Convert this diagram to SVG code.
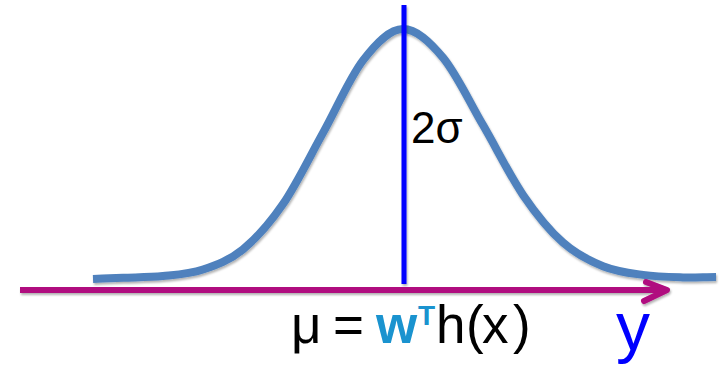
<svg xmlns="http://www.w3.org/2000/svg" width="722" height="369" viewBox="0 0 722 369">
<style>
.txt{font-family:"Liberation Sans","DejaVu Sans",sans-serif;fill:#000}
</style>
<defs>
<filter id="sh" filterUnits="userSpaceOnUse" x="0" y="0" width="722" height="369">
<feDropShadow dx="1" dy="2" stdDeviation="1.2" flood-color="#000" flood-opacity="0.3"/>
</filter>
</defs>
<rect width="722" height="369" fill="#fff"/>
<g id="curve">
<path filter="url(#sh)" fill="none" stroke="#4f81bd" stroke-width="8" d="M93,279 C103,278.6 111.33,278.18 123,277.7 C134.67,277.22 149.67,277.47 163,276.1 C176.33,274.73 189.67,273.97 203,269.5 C216.33,265.03 229.67,260.2 243,249.3 C256.33,238.4 269.67,223.5 283,204.1 C296.33,184.7 309.67,156.85 323,132.9 C336.33,108.95 349.67,77.72 363,60.4 C376.33,43.08 389.67,29 403,29 C416.33,29 429.67,41.58 443,57.6 C456.33,73.62 469.67,102.22 483,125.1 C496.33,147.98 509.67,175.32 523,194.9 C536.33,214.48 549.67,230.72 563,242.6 C576.33,254.48 589.67,260.82 603,266.2 C616.33,271.58 629.67,273.03 643,274.9 C656.33,276.77 670.83,277.05 683,277.4 C695.17,277.75 705,277 716,277"/>
</g>
<g id="connectors">
<line id="mean-line" x1="404" y1="5" x2="404" y2="284" stroke="#0000ff" stroke-width="5" filter="url(#sh)"/>
<g id="axis" filter="url(#sh)" stroke="#b0087f" stroke-width="6" fill="none" stroke-linecap="round" stroke-linejoin="round">
<line x1="20" y1="290" x2="666" y2="290" stroke-linecap="butt"/>
<polyline points="646,282 667,290 644,301"/>
</g>
</g>
<g id="labels">
<text class="txt" x="411" y="143" font-size="44">2σ</text>
<text class="txt" y="343" font-size="53"><tspan x="291">μ</tspan><tspan x="333">=</tspan><tspan x="376" font-weight="bold" fill="#1a93cf">w</tspan><tspan x="418" y="325" font-size="28" font-weight="bold" fill="#1a93cf">T</tspan><tspan x="436" y="343">h</tspan><tspan x="466">(</tspan><tspan x="482">x</tspan><tspan x="513">)</tspan></text>
<text x="616" y="350" font-size="68" fill="#0000ff" font-family="Liberation Sans, sans-serif">y</text>
</g>
</svg>
